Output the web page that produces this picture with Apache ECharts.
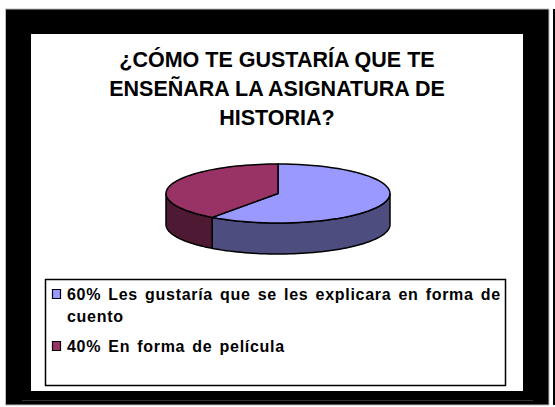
<!DOCTYPE html>
<html>
<head>
<meta charset="utf-8">
<style>
  html, body { margin: 0; padding: 0; background: #fff; }
  #chart { width: 555px; height: 407px; }
  /* legend text of the reference is tracked wider than the font */
  #chart text[style*="16px"] { letter-spacing: 0.7px; word-spacing: 2px; }
</style>
<script src="https://cdn.jsdelivr.net/npm/echarts@6/dist/echarts.min.js"></script>
</head>
<body>
<div id="chart"></div>
<script>
  var titleLines = ['¿CÓMO TE GUSTARÍA QUE TE', 'ENSEÑARA LA ASIGNATURA DE', 'HISTORIA?'];
  var sliceNames = ['60% Les gustaría que se les explicara en forma de cuento', '40% En forma de película'];
  var sliceValues = [60, 40];
  var topColors = ['#9999ff', '#993366'];
  var sideColors = ['#4d4d80', '#4d1933'];
  var legendLines = [
    ['60% Les gustaría que se les explicara en forma de', 'cuento'],
    ['40% En forma de película']
  ];

  // ellipse of the pie, angle 0 is 12 o'clock, clockwise
  var cx = 278, cy = 193.5, rx = 112, ry = 29.5, depth = 31;

  function pt(a, down) {
    return [cx + rx * Math.sin(a), cy - ry * Math.cos(a) + (down || 0)];
  }

  function arc(from, to, down) {
    var pts = [];
    var n = 60;
    for (var i = 0; i <= n; i++) {
      pts.push(pt(from + (to - from) * i / n, down));
    }
    return pts;
  }

  var total = sliceValues.reduce(function (a, b) { return a + b; }, 0);
  var sum = 0;

  var series = sliceValues.map(function (v, idx) {
    var start = sum / total * Math.PI * 2;
    sum += v;
    var end = sum / total * Math.PI * 2;
    return {
      type: 'custom',
      name: sliceNames[idx],
      coordinateSystem: 'none',
      data: [v],
      silent: true,
      z: 5,
      renderItem: function () {
        var children = [];
        // only the front half of the rim can be seen
        var sideFrom = Math.max(start, Math.PI / 2);
        var sideTo = Math.min(end, Math.PI * 1.5);
        if (sideTo > sideFrom) {
          children.push({
            type: 'polygon',
            shape: { points: arc(sideFrom, sideTo, 0).concat(arc(sideTo, sideFrom, depth)) },
            style: { fill: sideColors[idx], stroke: '#000', lineWidth: 1.5 }
          });
        }
        children.push({
          type: 'polygon',
          shape: { points: [[cx, cy]].concat(arc(start, end, 0)) },
          style: { fill: topColors[idx], stroke: '#000', lineWidth: 1.5 }
        });
        return { type: 'group', children: children };
      }
    };
  });

  var graphic = [
    // outer hairline on the right, black frame, white slide
    { type: 'rect', z: 0, shape: { x: 553, y: 9, width: 2, height: 396 }, style: { fill: '#000' } },
    { type: 'rect', z: 0, shape: { x: 5.5, y: 9, width: 543.5, height: 396 }, style: { fill: '#000', stroke: '#bbb', lineWidth: 1 } },
    { type: 'rect', z: 0, shape: { x: 22, y: 400, width: 511, height: 1 }, style: { fill: '#333' } },
    { type: 'rect', z: 1, shape: { x: 31, y: 34, width: 492, height: 357 }, style: { fill: '#fff' } },
    { type: 'rect', z: 2, shape: { x: 45.5, y: 279.5, width: 460, height: 106 }, style: { fill: '#fff', stroke: '#000', lineWidth: 1.5 } }
  ];

  titleLines.forEach(function (t, i) {
    graphic.push({
      type: 'text', z: 3, x: 277, y: 60 + i * 29,
      style: { text: t, fill: '#000', font: 'bold 21.5px "Liberation Sans"', textAlign: 'center', textVerticalAlign: 'middle' }
    });
  });

  var legendY = 294;
  legendLines.forEach(function (lines, i) {
    graphic.push({
      type: 'rect', z: 3, shape: { x: 52.5, y: legendY - 4.5, width: 8, height: 9 },
      style: { fill: topColors[i], stroke: '#000', lineWidth: 1.2 }
    });
    lines.forEach(function (t, j) {
      graphic.push({
        type: 'text', z: 3, x: 67, y: legendY + j * 22,
        style: { text: t, fill: '#000', font: 'bold 16px "Liberation Sans"', textVerticalAlign: 'middle' }
      });
    });
    legendY += lines.length * 22 + 8;
  });

  var chart = echarts.init(document.getElementById('chart'), null, { renderer: 'svg' });
  chart.setOption({
    animation: false,
    backgroundColor: '#fff',
    graphic: graphic,
    series: series
  });
</script>
</body>
</html>
